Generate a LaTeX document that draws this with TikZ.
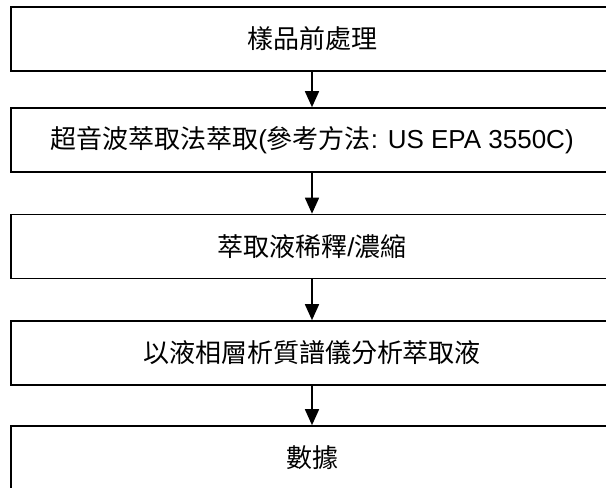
\documentclass[tikz,border=0pt]{standalone}
\usepackage{fontspec}
\setmainfont{Liberation Sans}
\newfontfamily\cjk{Noto Sans CJK TC}
\usetikzlibrary{arrows.meta}

\begin{document}
\begin{tikzpicture}[x=1pt, y=-1pt,
            stepbox/.style={draw, line width=1.6pt, minimum width=602pt, minimum height=64pt, inner sep=0pt, font=\fontsize{26}{30}\selectfont},
            flow/.style={line width=1.6pt, -{Triangle[length=16pt, width=14pt]}}]
            \useasboundingbox (0,0) rectangle (606,488);
            \node[stepbox] (A) at (312,39) {\cjk 樣品前處理};
            \node[stepbox] (B) at (312,140) {{\cjk 超音波萃取法萃取}({\cjk 參考方法}: US EPA 3550C)};
            \node[stepbox] (C) at (312,246.5) {{\cjk 萃取液稀釋}/{\cjk 濃縮}};
            \node[stepbox] (D) at (312,353) {\cjk 以液相層析質譜儀分析萃取液};
            \node[stepbox] (E) at (312,458) {\cjk 數據};
            \draw[flow] (A) -- (B);
            \draw[flow] (B) -- (C);
            \draw[flow] (C) -- (D);
            \draw[flow] (D) -- (E);
        \end{tikzpicture}
\end{document}
